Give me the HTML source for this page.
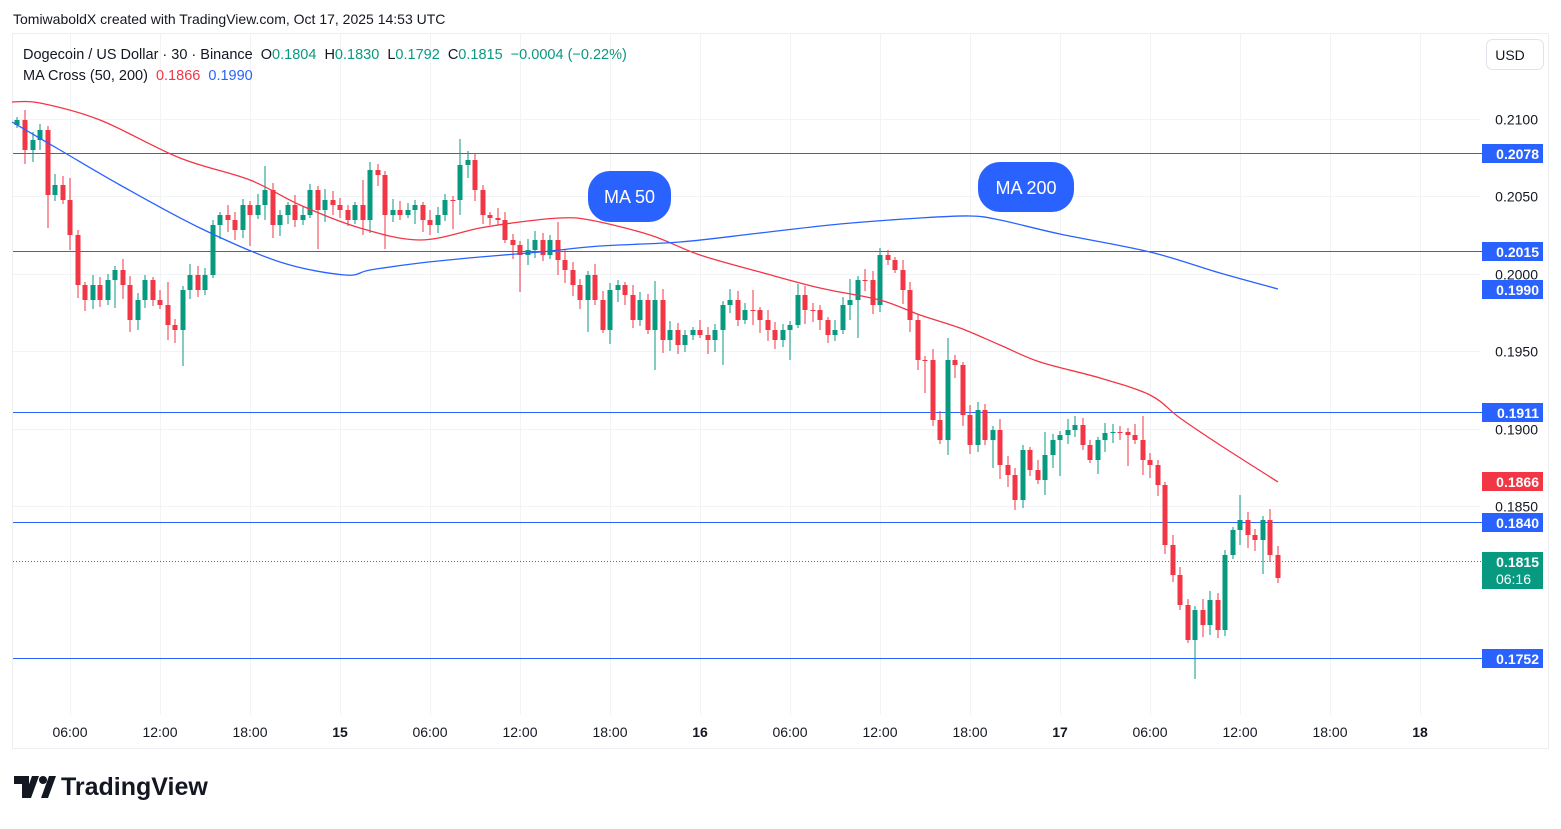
<!DOCTYPE html>
<html><head><meta charset="utf-8"><style>
body{margin:0;background:#fff;width:1561px;height:824px;overflow:hidden;font-family:"Liberation Sans",sans-serif}
.pre{white-space:pre}
</style></head><body>
<svg id="s" width="1561" height="824" xmlns="http://www.w3.org/2000/svg" font-family="Liberation Sans, sans-serif">
<text x="13" y="24" font-size="14" fill="#131722">TomiwaboldX created with TradingView.com, Oct 17, 2025 14:53 UTC</text>
<rect x="12.5" y="33.5" width="1536" height="715" fill="none" stroke="#eceef2"/>
<g id="grid" stroke="#f2f3f5" stroke-width="1"></g>
<g id="hl"></g>
<g id="candles"></g>
<g id="ma"></g>
<text class="pre" x="23" y="59" font-size="14.5" fill="#131722">Dogecoin / US Dollar · 30 · Binance  O<tspan fill="#089981">0.1804</tspan>  H<tspan fill="#089981">0.1830</tspan>  L<tspan fill="#089981">0.1792</tspan>  C<tspan fill="#089981">0.1815</tspan>  <tspan fill="#089981">−0.0004 (−0.22%)</tspan></text>
<text class="pre" x="23" y="80" font-size="14.5" fill="#131722">MA Cross (50, 200)  <tspan fill="#f23645">0.1866</tspan>  <tspan fill="#2962ff">0.1990</tspan></text>
<rect x="1486.5" y="39.5" width="57" height="30" rx="6" fill="#fff" stroke="#e0e3eb"/>
<text x="1510" y="60" font-size="14" text-anchor="middle" fill="#131722">USD</text>
<rect x="588" y="171" width="83" height="51" rx="22" fill="#2962ff"/>
<text x="629.5" y="203" font-size="18" fill="#fff" text-anchor="middle">MA 50</text>
<rect x="978" y="162" width="96" height="50" rx="22" fill="#2962ff"/>
<text x="1026" y="194" font-size="18" fill="#fff" text-anchor="middle">MA 200</text>
<g id="axis" font-size="14" fill="#131722"></g>
<g transform="translate(14,774)">
<path d="M0 2h15v22h-7v-14h-8z M18 2h7l-8 22h-7z" fill="#131722"/>
<circle cx="29" cy="6" r="4" fill="#131722"/>
<path d="M27 24 l8 -22 h7 l-8 22z" fill="#131722"/>
</g>
<text x="61" y="795" font-size="25" font-weight="bold" fill="#131722">TradingView</text>
</svg>
<script>
const NS="http://www.w3.org/2000/svg";
function el(p,t,a,txt){const e=document.createElementNS(NS,t);for(const k in a)e.setAttribute(k,a[k]);if(txt!=null)e.textContent=txt;document.getElementById(p).appendChild(e);return e;}
const py=p=>119+(0.21-p)/0.005*77.4;
const times=[[70,"06:00"],[160,"12:00"],[250,"18:00"],[340,"15"],[430,"06:00"],[520,"12:00"],[610,"18:00"],[700,"16"],[790,"06:00"],[880,"12:00"],[970,"18:00"],[1060,"17"],[1150,"06:00"],[1240,"12:00"],[1330,"18:00"],[1420,"18"]];
times.forEach(([x,t])=>{el("grid","line",{x1:x+.5,y1:34,x2:x+.5,y2:715});el("axis","text",{x:x,y:737,"text-anchor":"middle","font-weight":(t.length<3?"bold":"normal")},t);});
[0.21,0.205,0.2,0.195,0.19,0.185].forEach(p=>{const y=Math.round(py(p))+.5;el("grid","line",{x1:13,y1:y,x2:1480,y2:y});el("axis","text",{x:1538,y:y+5,"text-anchor":"end"},p.toFixed(4));});
const C=[[17,120],[25,150],[33,140],[40,130],[48,195],[55,185],[63,200],[70,235],[78,285],[85,300],[93,285],[100,300],[108,280],[115,270],[123,285],[130,320],[138,300],[145,280],[153,300],[160,305],[168,325],[175,330],[183,290],[190,275],[198,290],[205,275],[213,225],[220,215],[228,220],[235,230],[243,205],[250,215],[258,205],[265,190],[273,225],[280,215],[288,205],[295,220],[303,215],[310,190],[318,210],[325,200],[333,205],[340,210],[348,220],[355,205],[363,220],[370,170],[378,175],[385,215],[393,210],[400,215],[408,210],[415,205],[423,220],[430,225],[438,215],[445,200],[453,200],[460,165],[468,160],[475,190],[483,215],[490,218],[498,220],[505,240],[513,245],[520,255],[528,250],[535,240],[543,255],[550,240],[558,260],[565,270],[573,285],[580,300],[588,275],[595,300],[603,330],[610,290],[618,285],[625,295],[633,320],[640,300],[648,330],[655,300],[663,340],[670,330],[678,345],[685,335],[693,330],[700,335],[708,340],[715,330],[723,305],[730,300],[738,320],[745,310],[753,310],[760,320],[768,330],[775,340],[783,330],[790,325],[798,295],[805,310],[813,310],[820,320],[828,335],[835,330],[843,305],[850,300],[858,280],[865,280],[873,305],[880,255],[888,260],[895,270],[903,290],[910,320],[918,360],[925,360],[933,420],[940,440],[948,360],[955,365],[963,415],[970,445],[978,410],[985,440],[993,430],[1000,465],[1008,475],[1015,500],[1023,450],[1030,470],[1038,480],[1045,455],[1053,440],[1060,435],[1068,430],[1075,425],[1083,445],[1090,460],[1098,440],[1105,433],[1113,432],[1120,432],[1128,435],[1135,440],[1143,460],[1150,465],[1158,485],[1165,545],[1173,575],[1180,605],[1188,640],[1195,610],[1203,625],[1210,600],[1218,630],[1225,555],[1233,530],[1240,520],[1248,535],[1255,540],[1263,520],[1270,555],[1278,578]];
let prev=125;
C.forEach(([x,c],i)=>{const o=prev;prev=c;const up=c<o;const col=up?"#089981":"#f23645";
 let hi=Math.min(o,c)-3-((i*7)%9),lo=Math.max(o,c)+3+((i*11)%13);
 if(i%9==4)lo+=25; if(i%13==7)hi-=15;
 el("candles","line",{x1:x,y1:hi,x2:x,y2:lo,stroke:col,"stroke-width":1});
 const t=Math.min(o,c),h=Math.max(1,Math.abs(c-o));
 el("candles","rect",{x:x-2.5,y:t,width:5,height:h,fill:col});});
function smooth(P){let d="M"+P[0][0]+","+P[0][1];for(let i=1;i<P.length;i++){const p0=P[Math.max(0,i-2)],p1=P[i-1],p2=P[i],p3=P[Math.min(P.length-1,i+1)];d+=` C${p1[0]+(p2[0]-p0[0])/6},${p1[1]+(p2[1]-p0[1])/6} ${p2[0]-(p3[0]-p1[0])/6},${p2[1]-(p3[1]-p1[1])/6} ${p2[0]},${p2[1]}`;}return d;}
const R=[[12,102],[40,103],[100,120],[180,158],[250,180],[300,205],[360,228],[420,240],[480,228],[520,222],[560,218],[590,220],[650,235],[700,255],[760,272],[820,288],[880,300],[920,315],[960,328],[1000,345],[1040,362],[1100,378],[1150,395],[1180,418],[1220,445],[1278,482]];
const B=[[12,122],[60,150],[120,185],[200,228],[280,262],[345,275],[370,270],[420,263],[480,257],[540,252],[600,246],[680,242],[760,233],[840,224],[920,218],[970,216],[1000,220],[1060,234],[1150,252],[1220,273],[1278,289]];
el("ma","path",{d:smooth(R),fill:"none",stroke:"#f23645","stroke-width":1.3});
el("ma","path",{d:smooth(B),fill:"none",stroke:"#2962ff","stroke-width":1.3});
[[153,"0.2078"],[251,"0.2015"],[412,"0.1911"],[522,"0.1840"],[658,"0.1752"]].forEach(([y,t])=>{el("hl","line",{x1:13,y1:y+.5,x2:1482,y2:y+.5,stroke:"#2962ff","stroke-width":1});el("axis","rect",{x:1482,y:y-9,width:61,height:19,fill:"#2962ff"});el("axis","text",{x:1539,y:y+6,"text-anchor":"end",fill:"#fff","font-weight":"bold"},t);});
el("hl","line",{x1:13,y1:561.5,x2:1482,y2:561.5,stroke:"#089981","stroke-width":1,"stroke-dasharray":"1,2"});
el("axis","rect",{x:1482,y:280,width:61,height:19,fill:"#2962ff"});el("axis","text",{x:1539,y:295,"text-anchor":"end",fill:"#fff","font-weight":"bold"},"0.1990");
el("axis","rect",{x:1482,y:472,width:61,height:19,fill:"#f23645"});el("axis","text",{x:1539,y:487,"text-anchor":"end",fill:"#fff","font-weight":"bold"},"0.1866");
el("axis","rect",{x:1482,y:552,width:61,height:37,fill:"#089981"});el("axis","text",{x:1539,y:567,"text-anchor":"end",fill:"#fff","font-weight":"bold"},"0.1815");el("axis","text",{x:1531,y:584,"text-anchor":"end",fill:"#fff"},"06:16");
</script>
</body></html>
